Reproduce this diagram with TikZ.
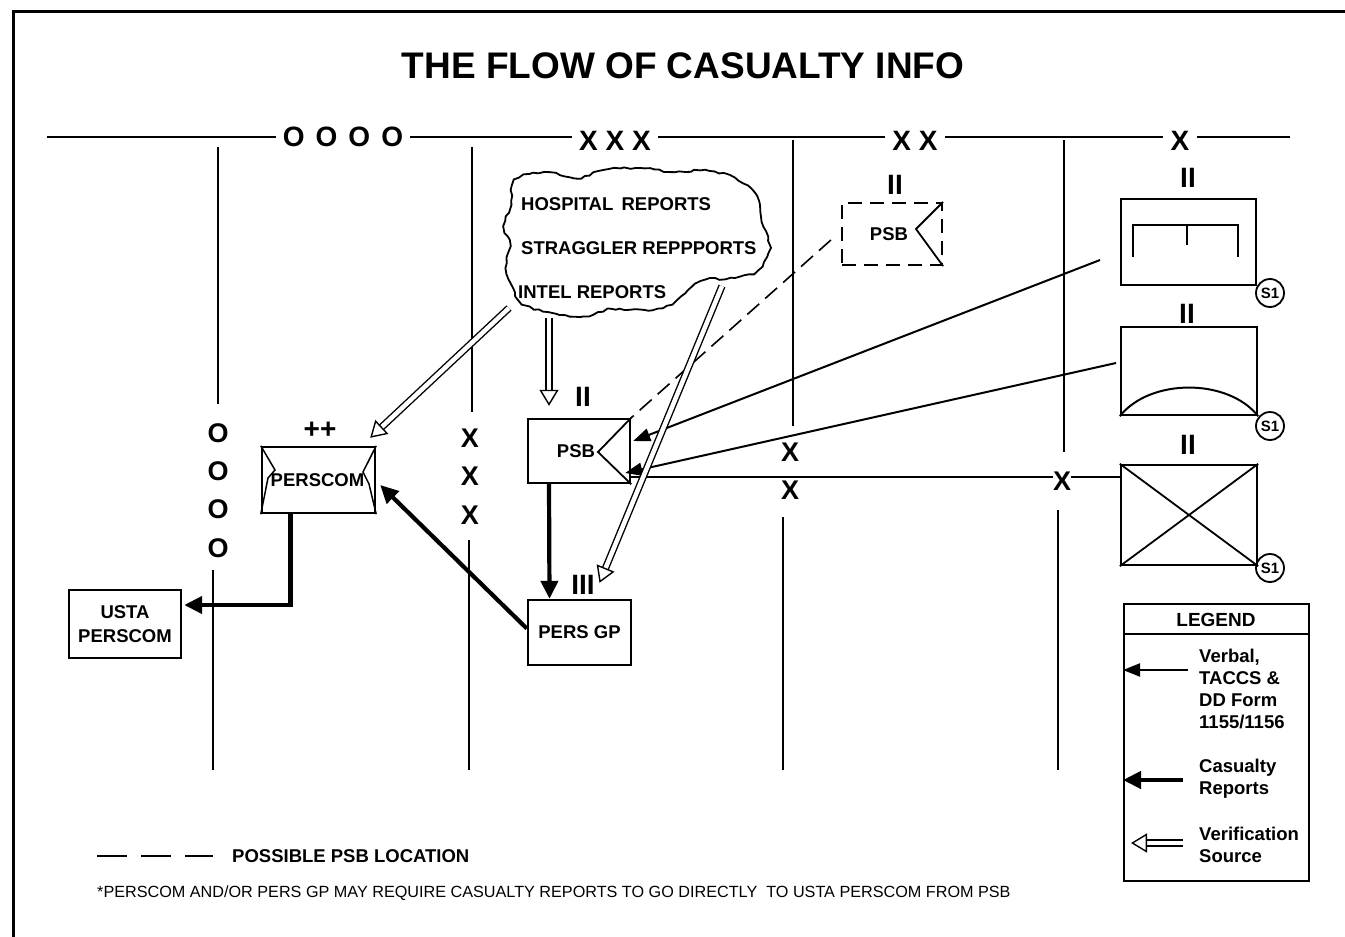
\documentclass[tikz,border=0pt]{standalone}
\usepackage{fontspec}
\setmainfont{Liberation Sans}
\usetikzlibrary{arrows.meta,calc,decorations.pathmorphing}
\newcommand{\fsz}[1]{\fontsize{#1}{#1}\selectfont}
\tikzset{
  unitbox/.style={draw, line width=2.4pt, inner sep=0pt, font=\bfseries\fsz{18.5}},
  echelon/.style={font=\bfseries\fsz{28}, inner sep=7pt},
  sidemark/.style={font=\bfseries\fsz{27}, inner sep=0pt},
  sizemark/.style={font=\bfseries\fsz{28}, inner sep=0pt},
  bnd/.style={line width=2pt},
  verbal/.style={line width=2pt, -{Triangle[length=17pt,width=13pt]}},
  casualty/.style={line width=4.2pt, -{Triangle[length=18pt,width=17pt]}},
  verify/.style={double, double distance=4.5pt, line width=1.4pt,
                 -{Triangle[open,length=16pt,width=19pt,line width=1.4pt]}},
  sone/.style={draw, circle, line width=1.8pt, minimum size=28pt, inner sep=0pt,
               font=\bfseries\fsz{15}},
  legtxt/.style={font=\bfseries\fontsize{18.5}{22}\selectfont, align=left, anchor=west, inner sep=0pt},
  cloudtxt/.style={font=\bfseries\fsz{18.5}, anchor=west, inner sep=0pt}
}
\begin{document}
\begin{tikzpicture}[x=1pt,y=-1pt]
\useasboundingbox (0,0) rectangle (1345,937);
% page frame (top and left edges)
\draw[line width=3pt] (13,937) -- (13,11) -- (1345,11);

% title
\node[font=\bfseries\fsz{37}] (title) at (683,66) {THE FLOW OF CASUALTY INFO};

% echelon header line
\node[echelon] (eO) at (343,137) {O\hspace{11pt}O\hspace{11pt}O\hspace{11pt}O};
\node[echelon] (eX3) at (615,141) {X X X};
\node[echelon] (eX2) at (915,141) {X X};
\node[echelon] (eX1) at (1180,141) {X};
\draw[bnd] (47,137) -- (eO.west);
\draw[bnd] (eO.east) -- (eX3.west |- 0,137);
\draw[bnd] (eX3.east |- 0,137) -- (eX2.west |- 0,137);
\draw[bnd] (eX2.east |- 0,137) -- (eX1.west |- 0,137);
\draw[bnd] (eX1.east |- 0,137) -- (1290,137);

% boundary between army group and army
\node[sidemark] (o1) at (218,433) {O};
\node[sidemark] (o2) at (218,471) {O};
\node[sidemark] (o3) at (218,509) {O};
\node[sidemark] (o4) at (218,548) {O};
\draw[bnd] (218,147) -- (218,404);
\draw[bnd] (213,570) -- (213,770);
% corps boundary
\node[sidemark] (x31) at (470,438) {X};
\node[sidemark] (x32) at (470,476) {X};
\node[sidemark] (x33) at (470,515) {X};
\draw[bnd] (472,147) -- (472,412);
\draw[bnd] (469,540) -- (469,770);
% division boundary
\node[sidemark] (x21) at (790,452) {X};
\node[sidemark] (x22) at (790,490) {X};
\draw[bnd] (793,140) -- (793,426);
\draw[bnd] (783,517) -- (783,770);
% brigade boundary
\node[sidemark] (x11) at (1062,481) {X};
\draw[bnd] (1064,140) -- (1064,452);
\draw[bnd] (1058,510) -- (1058,770);

% source cloud
\draw[line width=1.8pt, decorate, decoration={random steps, segment length=5pt, amplitude=1.1pt}]
  plot[smooth cycle, tension=0.55] coordinates {
  (515,180) (545,172) (575,178) (605,170) (640,168) (675,172) (705,170)
  (735,178) (757,196) (762,222) (770,248) (758,270) (735,278) (705,280)
  (688,290) (672,304) (645,310) (612,309) (580,317) (548,312) (522,304)
  (513,288) (506,268) (510,246) (504,226) (511,205)};
\node[cloudtxt] (hosp) at (521,204) {HOSPITAL\, REPORTS};
\node[cloudtxt] (strag) at (521,248) {STRAGGLER REPPPORTS};
\node[cloudtxt] (intel) at (518,292) {INTEL REPORTS};
\coordinate (cloudA) at (509,308);
\coordinate (cloudB) at (549,318);
\coordinate (cloudC) at (722,286);

% PERSCOM
\node[unitbox, minimum width=113pt, minimum height=66pt] (perscom) at (318.5,480) {\hspace*{-2pt}PERSCOM};
\draw[line width=1.5pt] (perscom.north west) -- (275,470) -- (268,478) -- (perscom.south west);
\draw[line width=1.5pt] (perscom.north east) -- (363,472) -- (369,484) -- (perscom.south east);
\node[sizemark] (pcsz) at (320,430) {++};

% USTA PERSCOM
\node[unitbox, minimum width=112pt, minimum height=68pt, align=center,
      font=\bfseries\fontsize{18.5}{24}\selectfont] (usta) at (125,624) {USTA\\PERSCOM};

% PSB
\node[unitbox, minimum width=102pt, minimum height=64pt] (psb) at (579,451) {\hspace*{-6pt}PSB};
\draw[line width=1.8pt] (psb.north east) -- (598,452) -- (psb.south east);
\node[sizemark] (psbsz) at (583,397) {II};

% possible PSB location
\node[unitbox, dash pattern=on 14pt off 8pt, line width=2.2pt,
      minimum width=100pt, minimum height=62pt] (psbx) at (892,234) {\hspace*{-6pt}PSB};
\draw[line width=1.8pt] (psbx.north east) -- (916,229) -- (psbx.south east);
\node[sizemark] (psbxsz) at (895,185) {II};

% PERS GP
\node[unitbox, minimum width=103pt, minimum height=65pt] (persgp) at (579.5,632.5) {PERS GP};
\node[sizemark] (pgsz) at (583,585) {III};

% battalion units
\node[unitbox, minimum width=135pt, minimum height=86pt] (bn1) at (1188.5,242) {};
\draw[line width=2.2pt] (1133,257) -- (1133,225) -- (1238,225) -- (1238,257);
\draw[line width=2.2pt] (1187,225) -- (1187,245);
\node[sizemark] (bn1sz) at (1188,178) {II};
\node[sone] (s1a) at (1270,293) {S1};

\node[unitbox, minimum width=136pt, minimum height=88pt] (bn2) at (1189,371) {};
\draw[line width=2pt] (bn2.south west) .. controls (1150,378) and (1228,378) .. (bn2.south east);
\node[sizemark] (bn2sz) at (1187,314) {II};
\node[sone] (s1b) at (1270,426) {S1};

\node[unitbox, minimum width=136pt, minimum height=100pt] (bn3) at (1189,515) {};
\draw[line width=1.8pt] (bn3.north west) -- (bn3.south east);
\draw[line width=1.8pt] (bn3.south west) -- (bn3.north east);
\node[sizemark] (bn3sz) at (1188,445) {II};
\node[sone] (s1c) at (1270,568) {S1};

% verbal / TACCS reports into the PSB
\coordinate (bn1out) at (1100,260);
\coordinate (bn2out) at (1116,363);
\draw[verbal] (bn1out) -- ([xshift=2pt,yshift=10pt]psb.east);
\draw[verbal] (bn2out) -- ([xshift=-6pt,yshift=-22pt]psb.east);
\draw[line width=1.8pt] (bn3.west |- 0,477) -- (x11.east |- 0,477);
\draw[line width=1.8pt] (x11.west |- 0,477) -- ([yshift=-26pt]psb.east);
\draw[line width=1.6pt, dash pattern=on 16pt off 8pt] ([xshift=-10pt,yshift=-6pt]psbx.west) -- (psb.north east);

% casualty reports
\draw[casualty] ([xshift=-30pt]psb.south) -- ([xshift=-30pt]persgp.north);
\draw[casualty] ([yshift=4pt]persgp.west) -- ([xshift=4pt,yshift=-5pt]perscom.east);
\draw[casualty] ([xshift=-28pt]perscom.south) |- ([yshift=19pt,xshift=2pt]usta.east);

% verification sources
\draw[verify] (cloudA) -- ([xshift=-6pt,yshift=8pt]perscom.north east);
\draw[verify] (cloudB) -- ([xshift=-30pt,yshift=12pt]psb.north);
\draw[verify] (cloudC) -- ([xshift=20pt,yshift=16pt]persgp.north);

% legend
\node[draw, line width=2pt, minimum width=185pt, minimum height=277pt, inner sep=0pt] (legend) at (1216.5,742.5) {};
\draw[line width=1.6pt] (legend.west |- 0,634) -- (legend.east |- 0,634);
\node[font=\bfseries\fsz{19}] (legtitle) at (1216,620) {LEGEND};
\node[legtxt] (lg1) at (1199,689) {Verbal,\\TACCS \&\\DD Form\\1155/1156};
\node[legtxt] (lg2) at (1199,779) {Casualty\\Reports};
\node[legtxt] (lg3) at (1199,845) {Verification\\Source};
\coordinate (lga) at (1188,670);
\coordinate (lgb) at (1183,780);
\coordinate (lgc) at (1183,843);
\draw[verbal] (lga) -- (lga -| legend.west);
\draw[casualty] (lgb) -- (lgb -| legend.west);
\draw[verify] (lgc) -- ([xshift=8pt]lgc -| legend.west);

% notes
\coordinate (dashA) at (97,856);
\coordinate (dashB) at (213,856);
\draw[line width=2pt, dash pattern=on 30pt off 14pt] (dashA) -- (dashB);
\node[font=\bfseries\fsz{18.5}, anchor=west, inner sep=0pt] (possible) at (232,856) {POSSIBLE PSB LOCATION};
\node[font=\fsz{16.2}, anchor=west, inner sep=0pt] (footnote) at (97,893)
  {*PERSCOM AND/OR PERS GP MAY REQUIRE CASUALTY REPORTS TO GO DIRECTLY\ \ TO USTA PERSCOM FROM PSB};
\end{tikzpicture}
\end{document}
